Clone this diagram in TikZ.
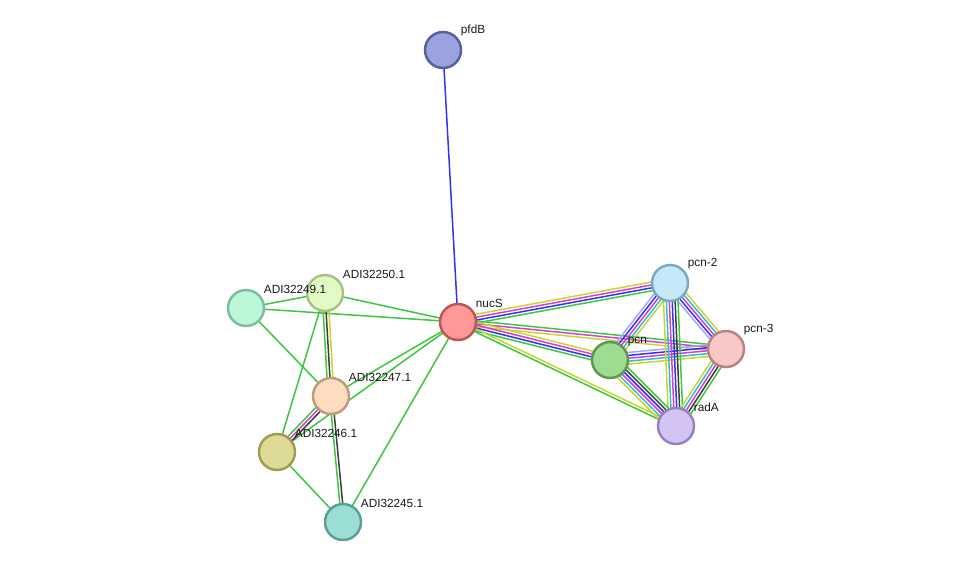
\documentclass[tikz,border=0pt]{standalone}
\usepackage{fontspec}
\setmainfont{Liberation Sans}
\usetikzlibrary{calc,backgrounds}

% line colours
\definecolor{cNbr}{RGB}{60,200,60}
\definecolor{cTxt}{RGB}{199,214,45}
\definecolor{cExp}{RGB}{215,60,215}
\definecolor{cCoo}{RGB}{50,50,245}
\definecolor{cDbs}{RGB}{45,190,215}
\definecolor{cCox}{RGB}{60,60,60}
\definecolor{cHom}{RGB}{165,165,250}
% node colours
\definecolor{fPfd}{RGB}{155,163,222}   \definecolor{dPfd}{RGB}{85,96,160}
\definecolor{fNuc}{RGB}{255,153,153}   \definecolor{dNuc}{RGB}{190,85,85}
\definecolor{fPcnB}{RGB}{197,232,250}  \definecolor{dPcnB}{RGB}{125,168,196}
\definecolor{fPcnC}{RGB}{246,200,200}  \definecolor{dPcnC}{RGB}{185,130,130}
\definecolor{fPcn}{RGB}{158,221,145}   \definecolor{dPcn}{RGB}{95,150,85}
\definecolor{fRad}{RGB}{211,196,245}   \definecolor{dRad}{RGB}{150,130,190}
\definecolor{fA250}{RGB}{226,251,197}  \definecolor{dA250}{RGB}{168,193,135}
\definecolor{fA249}{RGB}{188,247,216}  \definecolor{dA249}{RGB}{125,190,160}
\definecolor{fA247}{RGB}{253,220,192}  \definecolor{dA247}{RGB}{190,155,125}
\definecolor{fA246}{RGB}{222,219,150}  \definecolor{dA246}{RGB}{160,155,85}
\definecolor{fA245}{RGB}{155,222,214}  \definecolor{dA245}{RGB}{88,160,150}

\tikzset{
  prot/.style 2 args={circle, draw=#2, fill=#1, line width=1.4pt,
    minimum size=0.72cm, inner sep=0pt},
  lbl/.style={font=\fontsize{6.7}{8}\selectfont, text=black!90, yshift=-2pt},
  edge/.style={line width=0.85pt}
}

% bundle of parallel lines between two nodes
\newcommand{\link}[3]{%
  \foreach \col [count=\k] in {#3} {\xdef\nlines{\k}}
  \foreach \col [count=\k] in {#3} {
    \pgfmathsetmacro\off{(\k-(\nlines+1)/2)*0.058}
    \draw[edge, draw=\col] ($(#1)!\off cm!90:(#2)$) -- ($(#2)!\off cm!-90:(#1)$);
  }%
}

\begin{document}
\begin{tikzpicture}[x=0.02cm, y=-0.02cm, label distance=-1.5pt]
  \useasboundingbox (0,0) rectangle (976,569);
  \node[prot={fPfd}{dPfd}, label={[lbl]45:pfdB}] (pfdB) at (443,50) {};
  \node[prot={fNuc}{dNuc}, label={[lbl]45:nucS}] (nucS) at (458,322) {};
  \node[prot={fPcnB}{dPcnB}, label={[lbl]45:pcn-2}] (pcnB) at (670,283) {};
  \node[prot={fPcnC}{dPcnC}, label={[lbl]45:pcn-3}] (pcnC) at (726,349) {};
  \node[prot={fPcn}{dPcn}, label={[lbl]45:pcn}] (pcn) at (610,360) {};
  \node[prot={fRad}{dRad}, label={[lbl]45:radA}] (radA) at (676,426) {};
  \node[prot={fA250}{dA250}, label={[lbl]45:ADI32250.1}] (a250) at (325,293) {};
  \node[prot={fA249}{dA249}, label={[lbl]45:ADI32249.1}] (a249) at (246,308) {};
  \node[prot={fA247}{dA247}, label={[lbl]45:ADI32247.1}] (a247) at (331,396) {};
  \node[prot={fA246}{dA246}, label={[lbl]45:ADI32246.1}] (a246) at (277,452) {};
  \node[prot={fA245}{dA245}, label={[lbl]45:ADI32245.1}] (a245) at (343,522) {};

  \begin{pgfonlayer}{background}
    \link{pfdB}{nucS}{cCoo}
    \link{nucS}{a250}{cNbr}
    \link{nucS}{a249}{cNbr}
    \link{nucS}{a247}{cNbr}
    \link{nucS}{a246}{cNbr}
    \link{nucS}{a245}{cNbr}
    \link{a249}{a250}{cNbr}
    \link{a249}{a247}{cNbr}
    \link{a250}{a246}{cNbr}
    \link{a246}{a245}{cNbr}
    \link{a250}{a247}{cNbr,cCox,cTxt}
    \link{a247}{a246}{cNbr,cExp,cCox}
    \link{a247}{a245}{cNbr,cCox}
    \link{nucS}{pcnB}{cNbr,cCoo,cExp,cTxt}
    \link{nucS}{pcnC}{cTxt,cExp,cNbr}
    \link{nucS}{pcn}{cNbr,cCoo,cExp,cTxt}
    \link{nucS}{radA}{cNbr,cTxt}
    \link{pcn}{pcnB}{cTxt,cDbs,cExp,cCoo,cHom}
    \link{pcnB}{pcnC}{cHom,cCoo,cExp,cDbs,cTxt}
    \link{pcn}{pcnC}{cTxt,cDbs,cExp,cCoo,cHom}
    \link{pcnB}{radA}{cTxt,cDbs,cExp,cCoo,cCox,cNbr}
    \link{pcn}{radA}{cTxt,cDbs,cExp,cCoo,cCox,cNbr}
    \link{pcnC}{radA}{cTxt,cDbs,cExp,cCox,cNbr}
  \end{pgfonlayer}
\end{tikzpicture}
\end{document}
